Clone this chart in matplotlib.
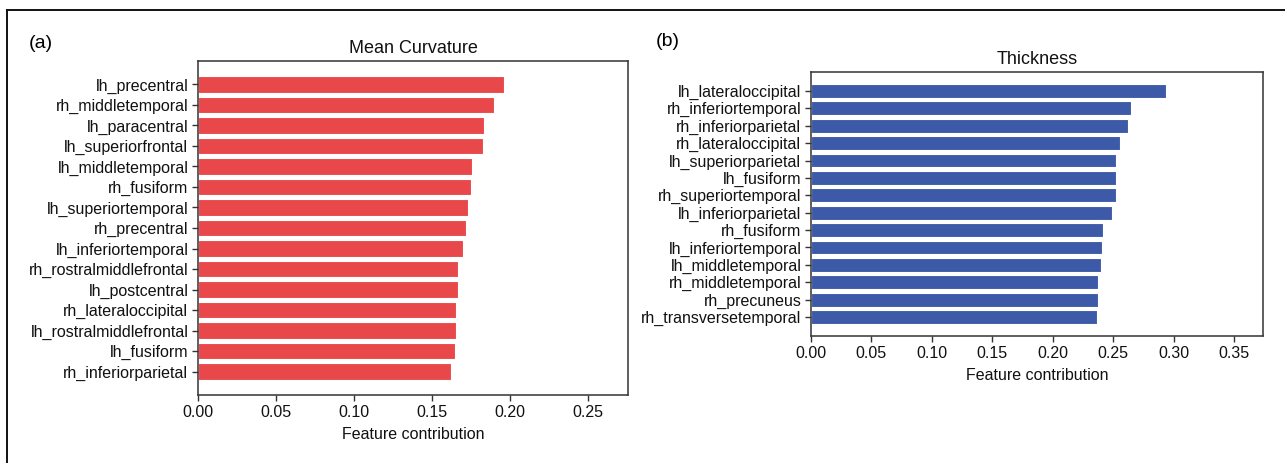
import matplotlib
matplotlib.use("Agg")
import matplotlib.pyplot as plt
import numpy as np

plt.rcParams['font.family'] = ['Liberation Sans', 'DejaVu Sans']

# feature contributions, mean curvature (top to bottom)
curv_labels = ['lh_precentral', 'rh_middletemporal', 'lh_paracentral', 'lh_superiorfrontal',
               'lh_middletemporal', 'rh_fusiform', 'lh_superiortemporal', 'rh_precentral',
               'lh_inferiortemporal', 'rh_rostralmiddlefrontal', 'lh_postcentral',
               'rh_lateraloccipital', 'lh_rostralmiddlefrontal', 'lh_fusiform', 'rh_inferiorparietal']
curv_vals = [0.196, 0.1895, 0.183, 0.1827, 0.1753, 0.175, 0.173, 0.1717,
             0.1696, 0.1667, 0.1667, 0.1654, 0.1654, 0.165, 0.162]

# feature contributions, thickness
thick_labels = ['lh_lateraloccipital', 'rh_inferiortemporal', 'rh_inferiorparietal',
                'rh_lateraloccipital', 'lh_superiorparietal', 'lh_fusiform',
                'rh_superiortemporal', 'lh_inferiorparietal', 'rh_fusiform',
                'lh_inferiortemporal', 'lh_middletemporal', 'rh_middletemporal',
                'rh_precuneus', 'rh_transversetemporal']
thick_vals = [0.2934, 0.2646, 0.2622, 0.2554, 0.252, 0.252, 0.252, 0.249,
              0.2419, 0.2408, 0.2398, 0.2378, 0.2378, 0.2368]

curv_ticks = [0.00, 0.05, 0.10, 0.15, 0.20, 0.25]
thick_ticks = [0.00, 0.05, 0.10, 0.15, 0.20, 0.25, 0.30, 0.35]

W, H = 1285, 463
fig = plt.figure(figsize=(W / 100, H / 100), dpi=100)


def px_axes(x0, y0, x1, y1):
    return fig.add_axes([x0 / W, 1 - y1 / H, (x1 - x0) / W, (y1 - y0) / H])


def panel(ax, labels, vals, ticks, xmax, color, title):
    y = np.arange(len(labels))
    ax.barh(y, vals, height=0.8, color=color, edgecolor='white', linewidth=0.8)
    ax.set_yticks(y)
    ax.set_yticklabels(labels)
    ax.invert_yaxis()
    ax.set_xticks(ticks)
    ax.set_xticklabels(['%.2f' % t for t in ticks])
    ax.set_xlim(0, xmax)
    ax.tick_params(labelsize=11.5, length=4, width=1, color='#333333', pad=3,
                   labelcolor='#111111')
    for s in ax.spines.values():
        s.set_color('#333333')
        s.set_linewidth(1.1)
    ax.set_xlabel('Feature contribution', fontsize=11.5, labelpad=5, color='#111111')
    ax.set_title(title, fontsize=13, pad=6, color='#111111')


ax1 = px_axes(198, 61, 628, 395)
panel(ax1, curv_labels, curv_vals, curv_ticks, 0.2756, '#e84849', 'Mean Curvature')

ax2 = px_axes(811, 72, 1263, 336)
panel(ax2, thick_labels, thick_vals, thick_ticks, 0.374, '#3d5aa8', 'Thickness')

fig.text(29 / W, 1 - 44 / H, '(a)', fontsize=14, va='center', ha='left')
fig.text(656 / W, 1 - 42 / H, '(b)', fontsize=14, va='center', ha='left')

# outer frame (left and top edges)
fig.add_artist(plt.Line2D([7 / W, 7 / W], [0, 1 - 10 / H], color='#111111', lw=1.4,
                          transform=fig.transFigure))
fig.add_artist(plt.Line2D([7 / W, 1], [1 - 10 / H, 1 - 10 / H], color='#111111', lw=1.4,
                          transform=fig.transFigure))

fig.savefig('out.png', dpi=100)
